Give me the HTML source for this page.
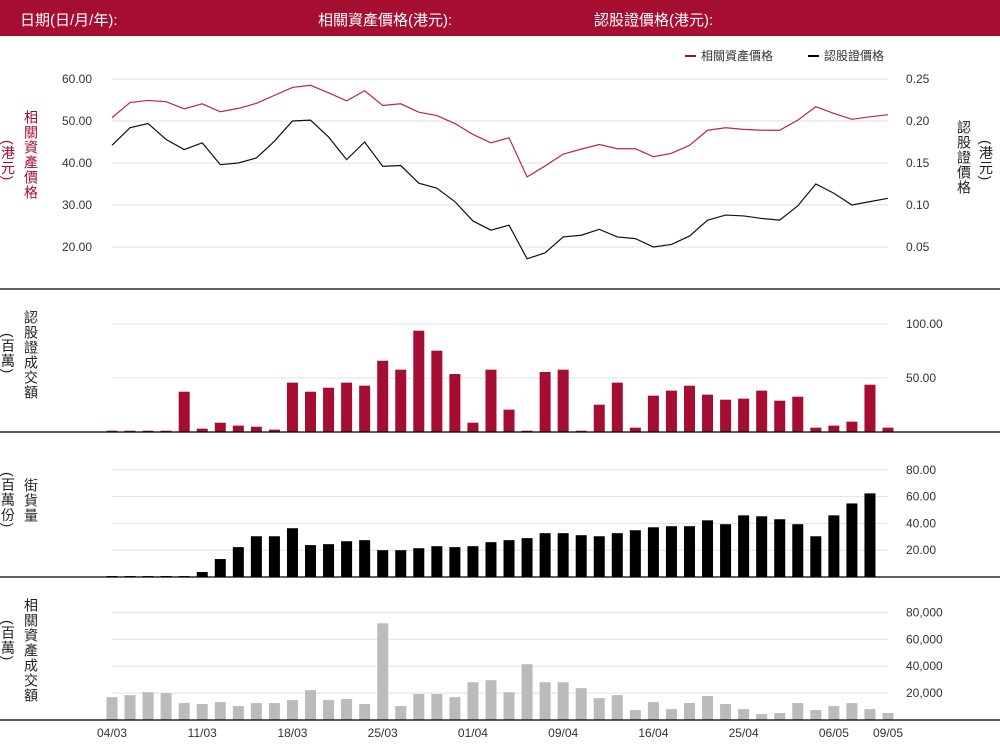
<!DOCTYPE html>
<html><head><meta charset="utf-8">
<style>
body{margin:0;width:1000px;height:751px;overflow:hidden;background:#fff;font-family:"Liberation Sans","Noto Sans CJK TC",sans-serif;}
#hdr{position:absolute;left:0;top:0;width:1000px;height:36px;background:#a50d32;color:#fff;font-size:15px;}
#hdr span{position:absolute;top:9px;}
.vt{position:absolute;writing-mode:vertical-rl;font-size:14px;line-height:16px;letter-spacing:1px;font-family:"Liberation Sans","Noto Sans CJK TC",sans-serif;}
svg{position:absolute;left:0;top:0;}
</style></head><body>
<div id="hdr">
<span style="left:20px">日期(日/月/年):</span>
<span style="left:318px">相關資產價格(港元):</span>
<span style="left:594px">認股證價格(港元):</span>
</div>
<div class="vt" style="left:23px;top:110px;color:#a50d32">相關資產價格</div>
<div class="vt" style="left:0px;top:140px;color:#a50d32">(港元)</div>
<div class="vt" style="left:956px;top:120px;color:#222">認股證價格</div>
<div class="vt" style="left:978px;top:140px;color:#222">(港元)</div>
<div class="vt" style="left:23px;top:310px;color:#222">認股證成交額</div>
<div class="vt" style="left:0px;top:333px;color:#222">(百萬)</div>
<div class="vt" style="left:23px;top:478px;color:#222">街貨量</div>
<div class="vt" style="left:0px;top:472px;color:#222">(百萬份)</div>
<div class="vt" style="left:23px;top:598px;color:#222">相關資產成交額</div>
<div class="vt" style="left:0px;top:620px;color:#222">(百萬)</div>
<svg id="c" width="1000" height="751"></svg>
<script>
const underlying=[50.8,54.4,54.9,54.6,52.9,54.1,52.2,53.0,54.2,56.1,58.0,58.5,56.7,54.8,57.2,53.7,54.1,52.1,51.3,49.4,46.8,44.8,46.0,36.7,39.3,42.1,43.3,44.4,43.4,43.4,41.5,42.3,44.2,47.8,48.4,48.0,47.8,47.8,50.2,53.4,51.8,50.4,51.0,51.5];
const warrant=[0.171,0.192,0.197,0.178,0.166,0.174,0.148,0.150,0.156,0.176,0.200,0.201,0.181,0.154,0.175,0.146,0.147,0.126,0.120,0.104,0.081,0.070,0.076,0.036,0.043,0.062,0.064,0.071,0.062,0.060,0.050,0.053,0.063,0.082,0.088,0.087,0.084,0.082,0.099,0.125,0.114,0.100,0.104,0.108];
const wTurnover=[1.2,1.2,1.2,1.2,37.3,3.1,8.6,5.9,4.9,2.2,45.7,37.3,41.0,45.7,42.9,66.0,57.7,93.8,75.3,53.7,8.6,57.7,20.7,1.2,55.6,57.7,1.2,25.3,45.7,4.0,33.6,38.3,42.9,34.6,29.9,30.9,38.3,29.0,32.7,4.0,5.9,9.6,43.8,4.0];
const outstanding=[0.7,0.7,0.7,0.7,0.7,3.7,13.4,22.3,30.4,30.4,36.4,23.8,24.5,26.7,27.5,20.0,20.0,21.5,23.0,22.3,23.0,26.0,27.5,29.0,32.7,32.7,31.2,30.4,32.7,34.9,37.1,37.9,37.9,42.3,39.4,46.0,45.3,43.1,39.4,30.4,46.0,54.9,62.4,0];
const uTurnover=[17000,18500,20700,20000,12600,11900,13300,10400,12600,12600,14800,22200,14800,15600,11900,71900,10400,19300,19300,17000,28100,29600,20700,41500,28100,28100,23700,16300,18500,7400,13300,8100,12600,17800,11900,8100,4400,5200,12600,7400,10400,12600,8100,5200];
const xLabels=['04/03','11/03','18/03','25/03','01/04','09/04','16/04','25/04','06/05','09/05'];
const xLabelIdx=[0,5,10,15,20,25,30,35,40,43];
const leftTicks=[60,50,40,30,20];
const rightTicks=[0.25,0.2,0.15,0.1,0.05];
const turnTicks=[100,50];
const outTicks=[80,60,40,20];
const uTicks=[80000,60000,40000,20000];

const svg=document.getElementById('c');
const NS='http://www.w3.org/2000/svg';
function mk(t,a,p){const e=document.createElementNS(NS,t);for(const k in a)e.setAttribute(k,a[k]);(p||svg).appendChild(e);return e;}
const N=underlying.length;
const x=i=>112+i*(888-112)/(N-1);
const yL=v=>79+(60-v)*4.2;
const yR=v=>79+(0.25-v)*840;
const yT=v=>432-v*1.08;
const yO=v=>577-v*1.34;
const yU=v=>720-v*0.001345;
function grid(y,name){const l=mk('line',{x1:112,x2:888,y1:y,y2:y,stroke:'#e0e0e0','stroke-width':1});}
function tick(xx,y,t,anchor,name,col){const e=mk('text',{x:xx,y:y+4,'font-size':12,fill:col||'#333','text-anchor':anchor});e.textContent=t;}
// panel 1
leftTicks.forEach(v=>{grid(yL(v),'price-gridline');tick(92,yL(v),v.toFixed(2),'end','left-tick-label');});
rightTicks.forEach(v=>{tick(906,yR(v),v.toFixed(2),'start','right-tick-label');});
let p1=mk('polyline',{points:underlying.map((v,i)=>x(i)+','+yL(v)).join(' '),fill:'none',stroke:'#c0244a','stroke-width':1.2});


let p2=mk('polyline',{points:warrant.map((v,i)=>x(i)+','+yR(v)).join(' '),fill:'none',stroke:'#111','stroke-width':1.2});


// legend
let lg1=mk('line',{x1:685,x2:696,y1:56,y2:56,stroke:'#a50d32','stroke-width':2});


let lt1=mk('text',{x:701,y:60,'font-size':12,fill:'#333'});lt1.textContent='相關資產價格';


let lg2=mk('line',{x1:808,x2:819,y1:56,y2:56,stroke:'#000','stroke-width':2});


let lt2=mk('text',{x:824,y:60,'font-size':12,fill:'#333'});lt2.textContent='認股證價格';


// panel 2
turnTicks.forEach(v=>{grid(yT(v),'turnover-gridline');tick(906,yT(v),v.toFixed(2),'start','turnover-tick-label');});
wTurnover.forEach((v,i)=>{const r=mk('rect',{x:x(i)-5.5,y:yT(v),width:11,height:432-yT(v),fill:'#a50d32'});

});
// panel 3
outTicks.forEach(v=>{grid(yO(v),'outstanding-gridline');tick(906,yO(v),v.toFixed(2),'start','outstanding-tick-label');});
outstanding.forEach((v,i)=>{if(v<=0)return;const r=mk('rect',{x:x(i)-5.5,y:yO(v),width:11,height:577-yO(v),fill:'#000'});

});
// panel 4
uTicks.forEach(v=>{grid(yU(v),'underlying-turnover-gridline');tick(906,yU(v),v.toLocaleString('en-US'),'start','underlying-turnover-tick-label');});
uTurnover.forEach((v,i)=>{const r=mk('rect',{x:x(i)-5.5,y:yU(v),width:11,height:720-yU(v),fill:'#bbb'});

});
// dividers
[289,432,577,720].forEach(y=>{const l=mk('line',{x1:0,x2:1000,y1:y,y2:y,stroke:'#000','stroke-width':1.2});

});
// x labels
xLabelIdx.forEach((idx,k)=>{tick(x(idx),733,xLabels[k],'middle','x-tick-label');});
</script>
</body></html>
